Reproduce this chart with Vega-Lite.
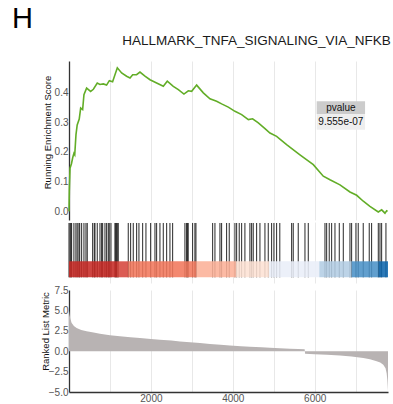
{
  "$schema": "https://vega.github.io/schema/vega-lite/v6.json",
  "padding": {"left": 11, "top": 4, "right": 5, "bottom": 0},
  "background": "white",
  "config": {
    "font": "Liberation Sans",
    "view": {"stroke": null},
    "concat": {"spacing": 2},
    "axis": {"labelFont": "Liberation Sans", "titleFont": "Liberation Sans"}
  },
  "title": {"text": "H", "anchor": "start", "fontSize": 29, "fontWeight": "normal", "color": "black", "dx": -28, "offset": 0},
  "datasets": {
    "es": [
      {"rank": 0, "es": 0.0}, {"rank": 8, "es": 0.07}, {"rank": 25, "es": 0.145}, {"rank": 60, "es": 0.16},
      {"rank": 90, "es": 0.18}, {"rank": 120, "es": 0.195}, {"rank": 140, "es": 0.19}, {"rank": 170, "es": 0.257},
      {"rank": 200, "es": 0.29}, {"rank": 250, "es": 0.31}, {"rank": 285, "es": 0.347}, {"rank": 333, "es": 0.342},
      {"rank": 365, "es": 0.392}, {"rank": 430, "es": 0.414}, {"rank": 528, "es": 0.403}, {"rank": 595, "es": 0.41},
      {"rank": 690, "es": 0.431}, {"rank": 755, "es": 0.426}, {"rank": 838, "es": 0.428}, {"rank": 918, "es": 0.424},
      {"rank": 985, "es": 0.439}, {"rank": 1065, "es": 0.435}, {"rank": 1180, "es": 0.482}, {"rank": 1285, "es": 0.465},
      {"rank": 1407, "es": 0.454}, {"rank": 1490, "es": 0.448}, {"rank": 1555, "es": 0.459}, {"rank": 1650, "es": 0.459},
      {"rank": 1733, "es": 0.468}, {"rank": 1855, "es": 0.454}, {"rank": 1978, "es": 0.442}, {"rank": 2140, "es": 0.431},
      {"rank": 2303, "es": 0.42}, {"rank": 2400, "es": 0.437}, {"rank": 2547, "es": 0.42}, {"rank": 2670, "es": 0.409},
      {"rank": 2807, "es": 0.394}, {"rank": 2913, "es": 0.405}, {"rank": 2995, "es": 0.403}, {"rank": 3117, "es": 0.424},
      {"rank": 3280, "es": 0.398}, {"rank": 3442, "es": 0.378}, {"rank": 3605, "es": 0.37}, {"rank": 3727, "es": 0.361},
      {"rank": 3890, "es": 0.35}, {"rank": 4053, "es": 0.336}, {"rank": 4216, "es": 0.325}, {"rank": 4380, "es": 0.308},
      {"rank": 4484, "es": 0.311}, {"rank": 4623, "es": 0.297}, {"rank": 4786, "es": 0.278}, {"rank": 4908, "es": 0.263},
      {"rank": 5070, "es": 0.252}, {"rank": 5314, "es": 0.224}, {"rank": 5640, "es": 0.19}, {"rank": 5966, "es": 0.157},
      {"rank": 6210, "es": 0.118}, {"rank": 6373, "es": 0.106}, {"rank": 6617, "es": 0.089}, {"rank": 6861, "es": 0.065},
      {"rank": 7025, "es": 0.054}, {"rank": 7187, "es": 0.034}, {"rank": 7349, "es": 0.017}, {"rank": 7553, "es": -0.002},
      {"rank": 7635, "es": 0.005}, {"rank": 7716, "es": -0.006}, {"rank": 7757, "es": 0.002}, {"rank": 7780, "es": 0.0}
    ],
    "hits": [
      {"rank": 0}, {"rank": 25}, {"rank": 45}, {"rank": 64}, {"rank": 120}, {"rank": 169}, {"rank": 201}, {"rank": 243},
      {"rank": 262}, {"rank": 309}, {"rank": 365}, {"rank": 414}, {"rank": 446}, {"rank": 578}, {"rank": 617}, {"rank": 634},
      {"rank": 690}, {"rank": 756}, {"rank": 797}, {"rank": 822}, {"rank": 878}, {"rank": 919}, {"rank": 959}, {"rank": 983},
      {"rank": 1025}, {"rank": 1122}, {"rank": 1140}, {"rank": 1164}, {"rank": 1178}, {"rank": 1203}, {"rank": 1447},
      {"rank": 1505}, {"rank": 1569}, {"rank": 1652}, {"rank": 1708}, {"rank": 1799}, {"rank": 1879}, {"rank": 1994},
      {"rank": 2099}, {"rank": 2140}, {"rank": 2221}, {"rank": 2302}, {"rank": 2385}, {"rank": 2465}, {"rank": 2531},
      {"rank": 2831}, {"rank": 2872}, {"rank": 2891}, {"rank": 2911}, {"rank": 3019}, {"rank": 3075}, {"rank": 3100},
      {"rank": 3508}, {"rank": 3564}, {"rank": 3686}, {"rank": 3727}, {"rank": 3849}, {"rank": 3913}, {"rank": 4052},
      {"rank": 4094}, {"rank": 4157}, {"rank": 4216}, {"rank": 4296}, {"rank": 4418}, {"rank": 4460}, {"rank": 4499},
      {"rank": 4582}, {"rank": 4663}, {"rank": 4785}, {"rank": 4866}, {"rank": 4948}, {"rank": 5004}, {"rank": 5070},
      {"rank": 5148}, {"rank": 5437}, {"rank": 5476}, {"rank": 5598}, {"rank": 5762}, {"rank": 5843}, {"rank": 6251},
      {"rank": 6292}, {"rank": 6355}, {"rank": 6414}, {"rank": 6495}, {"rank": 6600}, {"rank": 6698}, {"rank": 6861},
      {"rank": 6902}, {"rank": 7007}, {"rank": 7063}, {"rank": 7185}, {"rank": 7332}, {"rank": 7390}, {"rank": 7553},
      {"rank": 7594}, {"rank": 7635}, {"rank": 7740}
    ],
    "segments": [
      {"seg": "s1", "start": 0, "end": 1172},
      {"seg": "s2", "start": 1172, "end": 1447},
      {"seg": "s3", "start": 1447, "end": 3117},
      {"seg": "s4", "start": 3117, "end": 4077},
      {"seg": "s5", "start": 4077, "end": 4891},
      {"seg": "s6", "start": 4891, "end": 6112},
      {"seg": "s7", "start": 6112, "end": 6902},
      {"seg": "s8", "start": 6902, "end": 7553},
      {"seg": "s9", "start": 7553, "end": 7790}
    ],
    "metric": [
      {"rank": 0, "m": 5.0}, {"rank": 10, "m": 4.6}, {"rank": 30, "m": 4.0}, {"rank": 65, "m": 3.47},
      {"rank": 120, "m": 3.1}, {"rank": 186, "m": 2.85}, {"rank": 300, "m": 2.6}, {"rank": 430, "m": 2.44},
      {"rank": 600, "m": 2.28}, {"rank": 756, "m": 2.14}, {"rank": 1000, "m": 1.97}, {"rank": 1244, "m": 1.82},
      {"rank": 1500, "m": 1.71}, {"rank": 1733, "m": 1.61}, {"rank": 2000, "m": 1.5}, {"rank": 2221, "m": 1.4},
      {"rank": 2500, "m": 1.3}, {"rank": 2710, "m": 1.2}, {"rank": 2955, "m": 1.1}, {"rank": 3198, "m": 0.99},
      {"rank": 3442, "m": 0.88}, {"rank": 3700, "m": 0.78}, {"rank": 3930, "m": 0.7}, {"rank": 4200, "m": 0.62},
      {"rank": 4419, "m": 0.55}, {"rank": 4700, "m": 0.47}, {"rank": 4907, "m": 0.41}, {"rank": 5150, "m": 0.35},
      {"rank": 5396, "m": 0.3}, {"rank": 5600, "m": 0.27}, {"rank": 5755, "m": 0.25}, {"rank": 5765, "m": -0.3},
      {"rank": 6000, "m": -0.38}, {"rank": 6300, "m": -0.45}, {"rank": 6617, "m": -0.54}, {"rank": 6900, "m": -0.65},
      {"rank": 7187, "m": -0.83}, {"rank": 7350, "m": -1.0}, {"rank": 7513, "m": -1.24}, {"rank": 7600, "m": -1.4},
      {"rank": 7675, "m": -1.66}, {"rank": 7730, "m": -2.1}, {"rank": 7757, "m": -2.7}, {"rank": 7775, "m": -3.6},
      {"rank": 7790, "m": -4.9}
    ]
  },
  "vconcat": [
    {
      "width": 319,
      "height": 159,
      "title": {"text": "HALLMARK_TNFA_SIGNALING_VIA_NFKB", "anchor": "end", "fontSize": 13.5, "fontWeight": "normal", "color": "#1a1a1a", "offset": 14},
      "resolve": {"axis": {"x": "independent", "y": "independent"}},
      "layer": [
        {
          "data": {"name": "es"},
          "mark": {"type": "line", "color": "#62ad27", "strokeWidth": 1.6},
          "encoding": {
            "x": {"field": "rank", "type": "quantitative", "scale": {"domain": [0, 7790], "nice": false, "zero": false},
                  "axis": {"values": [1000, 2000, 3000, 4000, 5000, 6000, 7000], "grid": true, "gridColor": "#e8e8e8", "labels": false, "ticks": false, "domain": false, "title": null}},
            "y": {"field": "es", "type": "quantitative", "scale": {"domain": [-0.029, 0.505], "nice": false, "zero": false},
                  "axis": {"values": [0, 0.1, 0.2, 0.3, 0.4], "labelExpr": "format(datum.value, '.1f')", "grid": false, "ticks": false, "labelPadding": 1,
                           "labelOverlap": false,
                           "labelFontSize": 10, "labelColor": "#555555", "domainColor": "#333333", "domainWidth": 1.3,
                           "title": "Running Enrichment Score", "titleFontSize": 9.5, "titleFontWeight": "normal", "titleColor": "#111111",
                           "titleX": -22, "titleY": 71, "titleAngle": -90, "titleAlign": "center", "titleBaseline": "middle"}}
          }
        },
        {
          "data": {"values": [{}]},
          "mark": {"type": "rect", "color": "#cccccc"},
          "encoding": {"x": {"datum": 6048, "axis": null}, "x2": {"datum": 7230}, "y": {"datum": 0.37, "axis": null}, "y2": {"datum": 0.326}}
        },
        {
          "data": {"values": [{}]},
          "mark": {"type": "rect", "color": "#eeeeee"},
          "encoding": {"x": {"datum": 6048, "axis": null}, "x2": {"datum": 7230}, "y": {"datum": 0.326, "axis": null}, "y2": {"datum": 0.274}}
        },
        {
          "data": {"values": [{}]},
          "mark": {"type": "text", "fontSize": 10, "color": "#111111", "baseline": "middle", "align": "center"},
          "encoding": {"x": {"datum": 6639, "axis": null}, "y": {"datum": 0.348, "axis": null}, "text": {"value": "pvalue"}}
        },
        {
          "data": {"values": [{}]},
          "mark": {"type": "text", "fontSize": 10, "color": "#111111", "baseline": "middle", "align": "center"},
          "encoding": {"x": {"datum": 6639, "axis": null}, "y": {"datum": 0.3, "axis": null}, "text": {"value": "9.555e-07"}}
        }
      ]
    },
    {
      "width": 319,
      "height": 61,
      "layer": [
        {
          "data": {"name": "hits"},
          "mark": {"type": "rule", "color": "#111111", "strokeWidth": 1, "opacity": 0.9},
          "encoding": {
            "x": {"field": "rank", "type": "quantitative", "scale": {"domain": [0, 7790], "nice": false, "zero": false},
                  "axis": {"values": [1000, 2000, 3000, 4000, 5000, 6000, 7000], "grid": true, "gridColor": "#e8e8e8", "labels": false, "ticks": false, "domain": false, "title": null}},
            "y": {"datum": 5.7, "type": "quantitative", "scale": {"domain": [0, 61], "nice": false, "zero": false}, "axis": null},
            "y2": {"datum": 60}
          }
        },
        {
          "data": {"name": "segments"},
          "mark": {"type": "rect", "opacity": 0.88},
          "encoding": {
            "x": {"field": "start", "type": "quantitative"},
            "x2": {"field": "end"},
            "y": {"datum": 5.7, "type": "quantitative", "axis": null},
            "y2": {"datum": 21.7},
            "color": {"field": "seg", "type": "nominal", "legend": null,
                      "scale": {"domain": ["s1", "s2", "s3", "s4", "s5", "s6", "s7", "s8", "s9"],
                                "range": ["#c62a26", "#d6463c", "#f1785c", "#fcb097", "#fde1d4", "#e9eef8", "#b3cde4", "#4b92c7", "#0f66ad"]}}
          }
        }
      ]
    },
    {
      "width": 319,
      "height": 102,
      "data": {"name": "metric"},
      "mark": {"type": "area", "color": "#b8b3b3", "interpolate": "linear"},
      "encoding": {
        "x": {"field": "rank", "type": "quantitative", "scale": {"domain": [0, 7790], "nice": false, "zero": false},
              "axis": {"values": [1000, 2000, 3000, 4000, 5000, 6000, 7000], "labelExpr": "datum.value % 2000 === 0 ? datum.value : ''",
                       "labelOverlap": false, "labelFlush": false,
                       "grid": true, "gridColor": "#e8e8e8", "ticks": false, "labelPadding": 1, "labelFontSize": 10, "labelColor": "#555555",
                       "domainColor": "#333333", "domainWidth": 1.3, "title": "Rank in Ordered Dataset", "titleFontSize": 9.5,
                       "titleFontWeight": "normal", "titleColor": "#111111", "titlePadding": 1}},
        "y": {"field": "m", "type": "quantitative", "scale": {"domain": [-5, 7.5], "nice": false, "zero": false},
              "axis": {"values": [-5, -2.5, 0, 2.5, 5, 7.5], "labelExpr": "format(datum.value, '.1f')", "grid": false, "ticks": false, "labelPadding": 1,
                       "labelOverlap": false,
                       "labelFontSize": 10, "labelColor": "#555555", "domainColor": "#333333", "domainWidth": 1.3,
                       "title": "Ranked List Metric", "titleFontSize": 9.5, "titleFontWeight": "normal", "titleColor": "#111111",
                       "titleX": -24, "titleY": 41, "titleAngle": -90, "titleAlign": "center", "titleBaseline": "middle"}}
      }
    }
  ]
}
